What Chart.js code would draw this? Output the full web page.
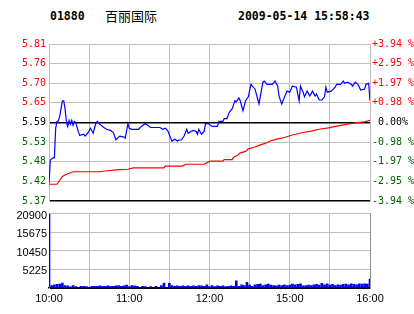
<!DOCTYPE html>
<html><head><meta charset="utf-8">
<script src="https://cdn.jsdelivr.net/npm/chart.js@4"></script>
<style>
html,body{margin:0;padding:0;background:#fff;width:414px;height:314px;overflow:hidden;}
#wrap{position:relative;width:414px;height:314px;}
.hd{position:absolute;top:9px;font:bold 11.5px "DejaVu Sans Mono",monospace;color:#000;line-height:14px;white-space:pre;}
.cn{position:absolute;top:8px;left:105px;font:13px "Noto Sans CJK SC",sans-serif;color:#000;line-height:16px;}
#c1{position:absolute;left:0;top:0;}
#c2{position:absolute;left:0;top:205px;}
</style></head>
<body><div id="wrap">
<div class="hd" style="left:50px">01880</div>
<div class="cn">百丽国际</div>
<div class="hd" style="left:238px">2009-05-14 15:58:43</div>
<canvas id="c1" width="414" height="210"></canvas>
<canvas id="c2" width="414" height="109"></canvas>
</div>
<script>
// minutes of trading since 10:00 (10:00-12:30, 14:30-16:00 => 0..240)
const timeLabels = ['10:00','11:00','12:00','15:00','16:00'];
const prevClose = 5.59;
const priceTicks = [5.37,5.425,5.48,5.535,5.59,5.645,5.70,5.755,5.81];
const priceTickLabels = ['5.37','5.42','5.48','5.53','5.59','5.65','5.70','5.76','5.81'];
const pctLabels = ['-3.94 %','-2.95 %','-1.97 %','-0.98 %',' 0.00%','+0.98 %','+1.97 %','+2.95 %','+3.94 %'];
const volTicks = [0,5225,10450,15675,20900];

const priceMin = [
  0,1,2,3,4,5,6,7,8,9,
  10,11,12,13,14,15,16,17,18,19,
  20,22,23,26,27,29,31,33,35,36,
  38,39,41,43,46,47,48,50,52,53,
  56,57,59,60,62,64,67,69,72,76,
  80,83,85,87,89,91,92,94,96,97,
  99,101,103,104,106,108,110,111,112,114,
  116,117,119,122,126,127,130,131,133,135,
  137,138,139,140,142,143,145,147,149,151,
  152,154,155,157,159,160,161,163,167,169,
  171,172,174,177,178,180,182,185,187,188,
  190,191,193,195,197,199,200,202,204,206,
  207,208,211,214,215,218,220,221,223,226,
  227,229,231,233,236,237,239,240];
const priceVal = [
  5.420,5.485,5.488,5.491,5.491,5.574,5.593,5.595,5.607,5.629,
  5.651,5.651,5.629,5.593,5.579,5.596,5.585,5.596,5.582,5.593,
  5.590,5.563,5.554,5.557,5.552,5.560,5.574,5.560,5.587,5.593,
  5.585,5.582,5.576,5.571,5.568,5.565,5.563,5.541,5.549,5.552,
  5.549,5.546,5.587,5.574,5.571,5.571,5.571,5.579,5.587,5.576,
  5.576,5.576,5.571,5.574,5.565,5.546,5.538,5.543,5.538,5.541,
  5.541,5.552,5.571,5.560,5.565,5.568,5.565,5.557,5.571,5.557,
  5.565,5.587,5.587,5.579,5.579,5.593,5.593,5.601,5.601,5.620,
  5.629,5.640,5.651,5.648,5.659,5.651,5.623,5.651,5.662,5.697,
  5.692,5.684,5.670,5.642,5.684,5.703,5.706,5.697,5.697,5.706,
  5.692,5.664,5.642,5.670,5.678,5.675,5.692,5.689,5.651,5.692,
  5.675,5.662,5.678,5.664,5.678,5.664,5.670,5.653,5.653,5.662,
  5.689,5.675,5.678,5.689,5.697,5.697,5.706,5.700,5.703,5.697,
  5.692,5.703,5.697,5.681,5.684,5.697,5.700,5.651];

const avgMin = [
  0,6,10,13,18,38,42,50,59,63,
  86,87,100,102,116,119,121,130,131,137,
  138,141,143,147,149,153,157,162,166,171,
  176,182,190,196,202,209,217,223,229,236,240];
const avgVal = [
  5.417,5.417,5.439,5.445,5.452,5.452,5.454,5.457,5.459,5.463,
  5.463,5.468,5.468,5.473,5.473,5.479,5.482,5.482,5.486,5.486,
  5.493,5.498,5.505,5.509,5.516,5.520,5.526,5.532,5.539,5.544,
  5.548,5.555,5.562,5.566,5.571,5.575,5.581,5.585,5.589,5.592,5.596];

// volume per 2-minute slot (slot i = minute 2*i)
const volume = [
  20900,700,900,1000,1100,1350,700,600,300,700,
  400,0,500,500,400,0,500,500,500,600,
  500,500,600,500,500,600,700,500,600,800,
  400,700,600,500,0,500,400,0,400,0,
  500,0,700,1400,0,1300,700,500,600,500,
  600,500,600,500,600,500,700,600,500,900,
  400,700,400,600,500,600,400,500,600,500,
  2000,500,900,700,1600,800,500,900,1000,1100,
  700,900,1100,800,700,600,800,700,900,700,
  800,1100,900,1000,1200,600,700,800,700,900,
  1000,800,1300,900,1200,800,1000,700,900,800,
  1000,1100,900,1200,1000,900,1200,1100,1200,1100,
  2500];

const RED = '#ff0000', GREEN = '#006400', GRID = '#c0c0c0';
const near = (a,b) => Math.abs(a-b) < 1e-6;
const sideColor = v => near(v, prevClose) ? '#000' : (v > prevClose ? RED : GREEN);
const monoFont = {family:'DejaVu Sans Mono', size:10};
const sansFont = {family:'Liberation Sans', size:11};
const common = {responsive:false, animation:false, events:[],
  plugins:{legend:{display:false}, tooltip:{enabled:false}}};

new Chart(document.getElementById('c1'), {
  type:'line',
  data:{datasets:[
    {data: priceMin.map((m,i)=>({x:m, y:priceVal[i]})), borderColor:'#0000ff', borderWidth:1.2, pointRadius:0, tension:0, yAxisID:'y'},
    {data: avgMin.map((m,i)=>({x:m, y:avgVal[i]})), borderColor:RED, borderWidth:1.2, pointRadius:0, tension:0, yAxisID:'y'}
  ]},
  options:Object.assign({}, common, {
    layout:{padding:{top:44, bottom:6, left:0, right:0}},
    scales:{
      x:{type:'linear', min:0, max:240,
         ticks:{display:false, stepSize:30},
         grid:{color:GRID, drawTicks:false, lineWidth:1},
         border:{display:false},
         afterFit(s){ s.height = 0; }},
      y:{position:'left', min:5.37, max:5.81,
         afterBuildTicks(s){ s.ticks = priceTicks.map(v=>({value:v})); },
         ticks:{callback:(v,i)=>priceTickLabels[i], color:c=>sideColor(c.tick.value), font:monoFont, padding:3},
         grid:{drawTicks:false,
               color:c=> (near(c.tick.value,prevClose)||near(c.tick.value,5.37)) ? '#000' : GRID,
               lineWidth:c=> (near(c.tick.value,prevClose)||near(c.tick.value,5.37)) ? 1.5 : 1},
         border:{color:GRID},
         afterFit(s){ s.width = 49; }},
      y2:{position:'right', min:5.37, max:5.81,
         afterBuildTicks(s){ s.ticks = priceTicks.map(v=>({value:v})); },
         ticks:{callback:(v,i)=>pctLabels[i], color:c=>sideColor(c.tick.value), font:monoFont, padding:2},
         grid:{drawOnChartArea:false, drawTicks:false},
         border:{color:GRID},
         afterFit(s){ s.width = 44; }}
    }
  })
});

new Chart(document.getElementById('c2'), {
  type:'bar',
  data:{datasets:[{data: volume.map((v,i)=>({x:i*2, y:v})), backgroundColor:'#0000ff', barThickness:2, grouped:false}]},
  options:Object.assign({}, common, {
    layout:{padding:{top:5, bottom:0, left:0, right:0}},
    scales:{
      x:{type:'linear', min:0, max:240, offset:false,
         ticks:{stepSize:30, autoSkip:false, maxRotation:0,
                callback:v=> (v%60===0) ? timeLabels[v/60] : '',
                font:sansFont, color:'#000', padding:4},
         grid:{color:GRID, drawTicks:false, offset:false},
         border:{color:'#000', width:1.5},
         afterFit(s){ s.height = 26; }},
      y:{position:'left', min:0, max:20900,
         afterBuildTicks(s){ s.ticks = volTicks.map(v=>({value:v})); },
         ticks:{callback:(v,i)=> i===0 ? '' : String(v), font:sansFont, color:'#000', padding:2, labelOffset:2},
         grid:{drawTicks:false, color:c=> c.tick.value===0 ? '#000' : GRID},
         border:{color:GRID},
         afterFit(s){ s.width = 49; }},
      y2:{position:'right', min:0, max:1,
         ticks:{display:false},
         grid:{drawOnChartArea:false, drawTicks:false},
         border:{color:'#909090'},
         afterFit(s){ s.width = 44; }}
    }
  })
});
</script>
</body></html>
